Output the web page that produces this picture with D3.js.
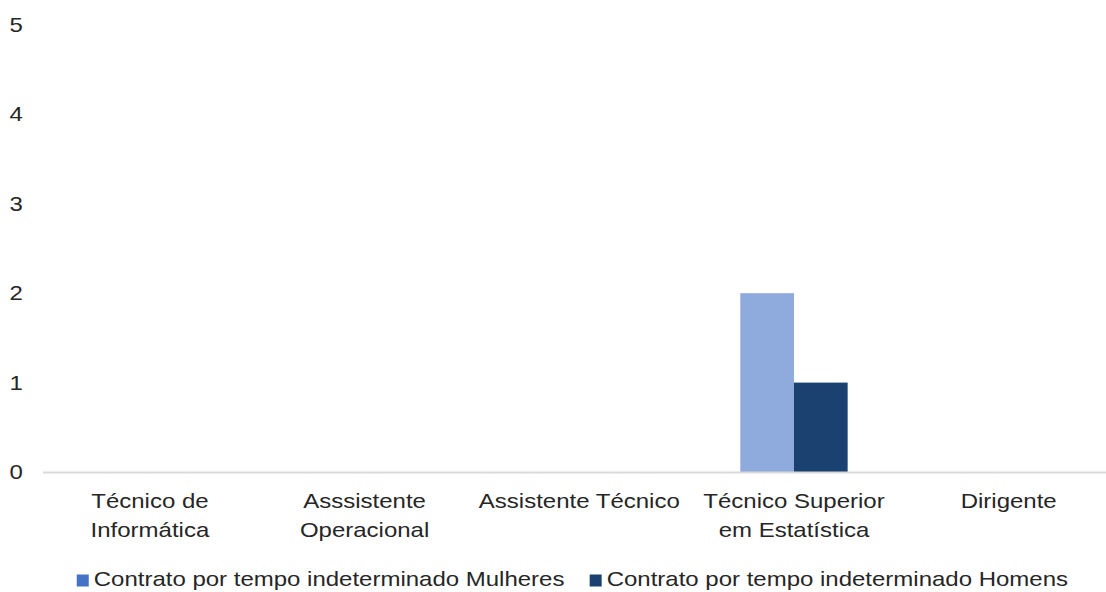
<!DOCTYPE html>
<html>
<head>
<meta charset="utf-8">
<script src="https://d3js.org/d3.v7.min.js"></script>
<style>
body {
  margin: 0;
  background: white;
  font-family: "Liberation Sans", Arial, sans-serif;
}
text {
  fill: #262626;
}
</style>
</head>
<body>
<div id="chart"></div>
<script>
// data
var categories = ["Técnico de Informática", "Asssistente Operacional", "Assistente Técnico", "Técnico Superior em Estatística", "Dirigente"];
var seriesNames = ["Contrato por tempo indeterminado Mulheres", "Contrato por tempo indeterminado Homens"];
var mulheres = [0, 0, 0, 2, 0];
var homens = [0, 0, 0, 1, 0];
var yTicks = [0, 1, 2, 3, 4, 5];

var WIDTH = 1106, HEIGHT = 592;
var FONT = 20, STRETCH = 1.2;   // text in the picture is a bit wide
var barColors = ["#8faadc", "#1a4170"];
var legendColors = ["#4472c4", "#1a4170"];

var svg = d3.select("#chart").append("svg")
  .attr("width", WIDTH)
  .attr("height", HEIGHT)
  .style("font-family", "'Liberation Sans', Arial, sans-serif")
  .style("font-size", FONT + "px");

var x0 = d3.scaleBand()
  .domain(categories)
  .range([42.6, 1116])
  .padding(0);

var x1 = d3.scaleBand()
  .domain(d3.range(seriesNames.length))
  .range([x0.bandwidth() / 4, x0.bandwidth() * 3 / 4])
  .padding(0);

var y = d3.scaleLinear()
  .domain([0, 5])
  .range([472, 25]);

// y axis - labels only
var yAxis = svg.append("g")
  .attr("transform", "translate(42,0)")
  .call(d3.axisLeft(y).tickValues(yTicks).tickSize(0).tickPadding(16).tickFormat(d3.format("d")));
yAxis.select(".domain").remove();
yAxis.selectAll("text")
  .style("font-size", FONT + "px")
  .style("font-family", "'Liberation Sans', Arial, sans-serif")
  .attr("fill", "#262626")
  .attr("transform", "scale(" + STRETCH + ",1)");

// bars
var groups = svg.append("g")
  .selectAll("g")
  .data(categories)
  .enter().append("g")
    .attr("transform", function(d) { return "translate(" + x0(d) + ",0)"; });

groups.selectAll("rect")
  .data(function(d, i) { return [mulheres[i], homens[i]]; })
  .enter().append("rect")
    .attr("x", function(d, j) { return x1(j); })
    .attr("y", function(d) { return y(d); })
    .attr("width", x1.bandwidth())
    .attr("height", function(d) { return y(0) - y(d); })
    .attr("fill", function(d, j) { return barColors[j]; });

// x axis
var xAxis = svg.append("g")
  .attr("transform", "translate(0," + y(0) + ")")
  .call(d3.axisBottom(x0).tickSize(0).tickSizeOuter(0).tickPadding(0));
xAxis.select(".domain")
  .attr("stroke", "#d9d9d9")
  .attr("stroke-width", 2);

xAxis.selectAll("text")
  .style("font-size", FONT + "px")
  .style("font-family", "'Liberation Sans', Arial, sans-serif")
  .attr("fill", "#262626")
  .attr("transform", "scale(" + STRETCH + ",1)")
  .each(function(d) { wrap(d3.select(this), d, x0.bandwidth() * 0.96 / STRETCH); });

function wrap(text, label, maxW) {
  var words = label.split(" ");
  text.text(null).attr("y", 0).attr("dy", null);
  var lines = [], line = [];
  var probe = text.append("tspan");
  words.forEach(function(w) {
    line.push(w);
    probe.text(line.join(" "));
    if (probe.node().getComputedTextLength() > maxW && line.length > 1) {
      line.pop();
      lines.push(line.join(" "));
      line = [w];
    }
  });
  lines.push(line.join(" "));
  probe.remove();
  lines.forEach(function(l, i) {
    text.append("tspan")
      .attr("x", 0)
      .attr("y", 36 + i * 28.7)
      .text(l);
  });
}

// legend
var legend = svg.append("g");
var items = legend.selectAll("g")
  .data(seriesNames)
  .enter().append("g");
items.append("rect")
  .attr("width", 12)
  .attr("height", 12)
  .attr("y", 574.5)
  .attr("fill", function(d, i) { return legendColors[i]; });
items.append("text")
  .attr("y", 586.5)
  .style("font-size", FONT + "px")
  .text(function(d) { return d; });

var pos = 0, widths = [];
items.each(function(d, i) {
  var w = d3.select(this).select("text").node().getComputedTextLength() * STRETCH;
  widths.push(w);
});
var total = d3.sum(widths) + widths.length * 17 + (widths.length - 1) * 25;
pos = 572.5 - total / 2;
items.each(function(d, i) {
  var g = d3.select(this);
  g.select("rect").attr("x", pos);
  g.select("text").attr("transform", "translate(" + (pos + 17) + ",0) scale(" + STRETCH + ",1)");
  pos += 17 + widths[i] + 25;
});
</script>
</body>
</html>
